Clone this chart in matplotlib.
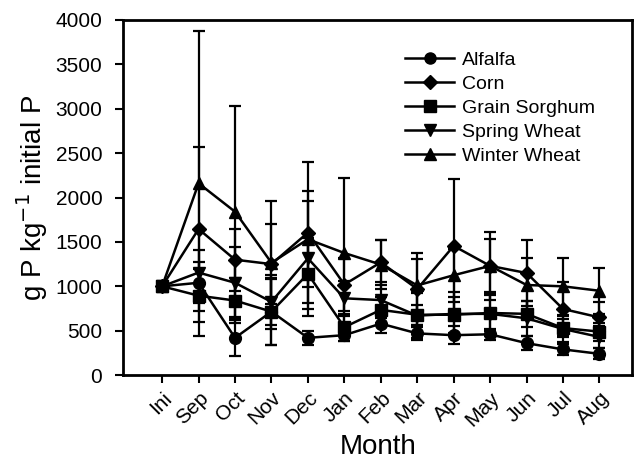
import numpy as np
import matplotlib.pyplot as plt
from matplotlib.lines import Line2D

plt.rcParams['font.family'] = ['Liberation Sans', 'DejaVu Sans']

months = ['Ini', 'Sep', 'Oct', 'Nov', 'Dec', 'Jan', 'Feb', 'Mar', 'Apr', 'May', 'Jun', 'Jul', 'Aug']

# values (g P kg-1 initial P)
alfalfa = [1000, 1040, 420, 715, 420, 450, 580, 470, 450, 460, 360, 290, 240]
corn = [1000, 1645, 1300, 1250, 1605, 1020, 1270, 970, 1455, 1230, 1150, 745, 650]
sorghum = [1000, 895, 840, 715, 1140, 540, 735, 680, 680, 700, 690, 530, 490]
spring_wheat = [1000, 1155, 1040, 825, 1315, 865, 845, 670, 690, 690, 640, 520, 430]
winter_wheat = [1000, 2160, 1840, 1265, 1530, 1375, 1245, 1010, 1125, 1230, 1015, 1000, 950]

alfalfa_err = [0, 230, 200, 370, 80, 70, 100, 70, 100, 60, 80, 60, 60]
corn_err = [0, 920, 350, 450, 790, 300, 250, 400, 750, 380, 370, 300, 170]
sorghum_err = [0, 300, 250, 380, 400, 150, 150, 110, 200, 200, 150, 100, 100]
spring_wheat_err = [0, 250, 400, 300, 650, 200, 200, 250, 250, 250, 200, 150, 120]
winter_wheat_err = [0, 1720, 1190, 700, 540, 850, 280, 300, 300, 300, 300, 320, 260]

series = [
    ('Alfalfa', alfalfa, alfalfa_err, 'o'),
    ('Corn', corn, corn_err, 'D'),
    ('Grain Sorghum', sorghum, sorghum_err, 's'),
    ('Spring Wheat', spring_wheat, spring_wheat_err, 'v'),
    ('Winter Wheat', winter_wheat, winter_wheat_err, '^'),
]

fig = plt.figure(figsize=(6.38, 4.62), dpi=100)
ax = fig.add_axes([0.193, 0.188, 0.798, 0.769])

x = np.arange(len(months))
handles = []
for name, vals, err, mk in series:
    ms = 7.5 if mk == 'D' else 8.5
    ax.errorbar(x, vals, yerr=err, color='black', marker=mk, markersize=ms,
                linewidth=1.8, elinewidth=1.6, capsize=4, capthick=1.6)
    handles.append(Line2D([], [], color='black', marker=mk, markersize=ms - 0.5,
                          linewidth=1.8, label=name))

ax.set_xlim(-1.07, 12.9)
ax.set_ylim(0, 4000)
ax.set_yticks(np.arange(0, 4001, 500))
ax.set_xticks(x)
ax.set_xticklabels(months, rotation=45, ha='right', rotation_mode='anchor')
ax.tick_params(axis='both', direction='out', length=6, width=1.5, labelsize=15)
ax.tick_params(axis='y', pad=9)
for sp in ax.spines.values():
    sp.set_linewidth(2)

ax.set_xlabel('Month', fontsize=20, labelpad=3)
ax.set_ylabel(r'g P kg$^{-1}$ initial P', fontsize=20, labelpad=4)

ax.legend(handles=handles, loc='upper left', bbox_to_anchor=(0.52, 0.96), frameon=False,
          fontsize=14, labelspacing=0.33, handlelength=2.5, handletextpad=0.4)

fig.savefig('out.png', dpi=100)
